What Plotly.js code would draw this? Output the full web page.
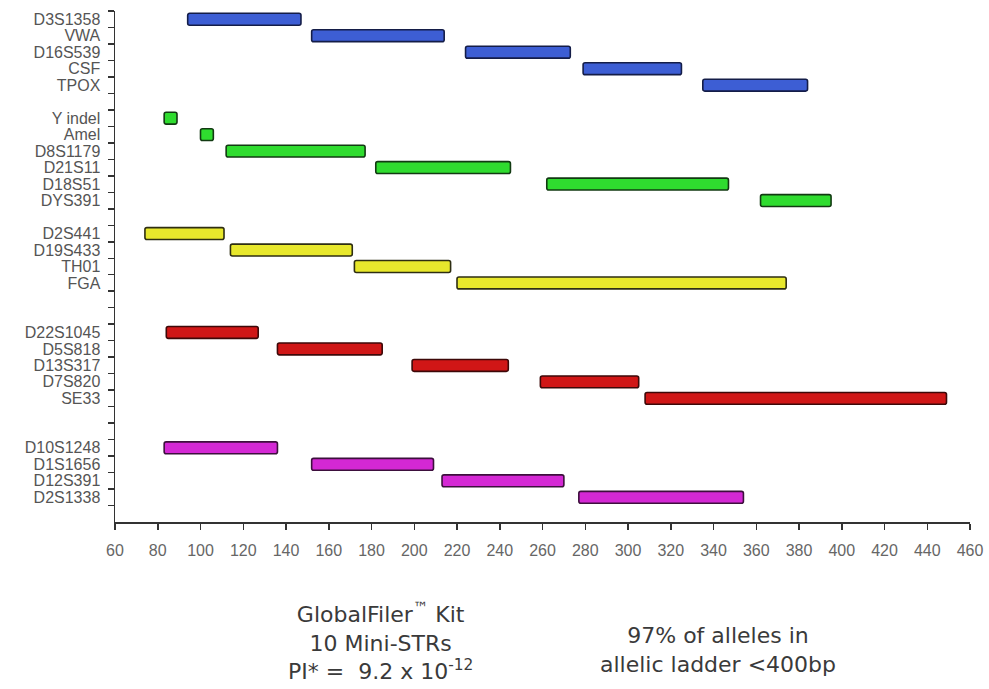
<!DOCTYPE html>
<html>
<head>
<meta charset="utf-8">
<script src="https://cdn.plot.ly/plotly-3.0.1.min.js"></script>
<style>html,body{margin:0;padding:0;background:#fff;}#chart{width:989px;height:689px;}</style>
</head>
<body>
<div id="chart"></div>
<script>
// Row order of the y axis (blank entries are the gaps between dye groups)
const categories = ["D3S1358","VWA","D16S539","CSF","TPOX"," ",
  "Y indel","Amel","D8S1179","D21S11","D18S51","DYS391","  ",
  "D2S441","D19S433","TH01","FGA","   ","    ",
  "D22S1045","D5S818","D13S317","D7S820","SE33","     ","      ",
  "D10S1248","D1S1656","D12S391","D2S1338","       "];

const blueMarkers = ["D3S1358","VWA","D16S539","CSF","TPOX"];
const blueStart = [94,152,224,279,335];
const blueEnd = [147,214,273,325,384];

const greenMarkers = ["Y indel","Amel","D8S1179","D21S11","D18S51","DYS391"];
const greenStart = [83,100,112,182,262,362];
const greenEnd = [89,106,177,245,347,395];

const yellowMarkers = ["D2S441","D19S433","TH01","FGA"];
const yellowStart = [74,114,172,220];
const yellowEnd = [111,171,217,374];

const redMarkers = ["D22S1045","D5S818","D13S317","D7S820","SE33"];
const redStart = [84,136,199,259,308];
const redEnd = [127,185,244,305,449];

const purpleMarkers = ["D10S1248","D1S1656","D12S391","D2S1338"];
const purpleStart = [83,152,213,277];
const purpleEnd = [136,209,270,354];

const xTicks = [60,80,100,120,140,160,180,200,220,240,260,280,300,320,340,360,380,400,420,440,460];

function group(markers, starts, ends, fill, line){
  return {
    type:'bar', orientation:'h',
    y: markers,
    base: starts,
    x: ends.map((e,i)=>e-starts[i]),
    width: 0.72,
    marker:{color:fill, line:{color:line, width:1.6}, cornerradius:2},
    hoverinfo:'skip', showlegend:false
  };
}

const data = [
  group(blueMarkers, blueStart, blueEnd, '#3d5ed4', '#141d48'),
  group(greenMarkers, greenStart, greenEnd, '#2fdc2f', '#123a12'),
  group(yellowMarkers, yellowStart, yellowEnd, '#e8e82c', '#2e2e12'),
  group(redMarkers, redStart, redEnd, '#d01616', '#3d0808'),
  group(purpleMarkers, purpleStart, purpleEnd, '#d428d4', '#3d0f3d')
];

const layout = {
  width:989, height:689,
  margin:{l:115, r:19, t:11, b:167, pad:0},
  paper_bgcolor:'#ffffff', plot_bgcolor:'#ffffff',
  barmode:'overlay',
  font:{family:'Liberation Sans, Arial, sans-serif', color:'#555'},
  xaxis:{
    range:[60,460], tickvals:xTicks, ticktext:xTicks.map(String),
    showgrid:false, zeroline:false,
    showline:true, linecolor:'#333', linewidth:1.5,
    ticks:'outside', ticklen:6, tickwidth:1.5, tickcolor:'#333',
    tickfont:{size:16, color:'#666', family:'Liberation Sans, Arial, sans-serif'},
    ticklabelstandoff:7
  },
  yaxis:{
    type:'category', categoryorder:'array', categoryarray:categories,
    range:[categories.length-0.5, -0.5],
    tickmode:'linear', tick0:0, dtick:1,
    tickson:'boundaries',
    showgrid:false, zeroline:false,
    showline:true, linecolor:'#333', linewidth:1.5,
    ticks:'outside', ticklen:6, tickwidth:1.5, tickcolor:'#333',
    tickfont:{size:16, color:'#555', family:'Liberation Sans, Arial, sans-serif'},
    ticklabelstandoff:10
  },
  annotations:[
    {xref:'paper', yref:'paper', x:0.311, y:-0.233, xanchor:'center', yanchor:'middle',
     text:'GlobalFiler<sup>™</sup> Kit<br>10 Mini-STRs<br>PI* =  9.2 x 10<sup>-12</sup>',
     showarrow:false, align:'center',
     font:{family:'DejaVu Sans, sans-serif', size:22, color:'#3a3a3a'}},
    {xref:'paper', yref:'paper', x:0.705, y:-0.25, xanchor:'center', yanchor:'middle',
     text:'97% of alleles in<br>allelic ladder <400bp',
     showarrow:false, align:'center',
     font:{family:'DejaVu Sans, sans-serif', size:22, color:'#3a3a3a'}}
  ]
};

Plotly.newPlot('chart', data, layout, {staticPlot:true, displayModeBar:false});
</script>
</body>
</html>
